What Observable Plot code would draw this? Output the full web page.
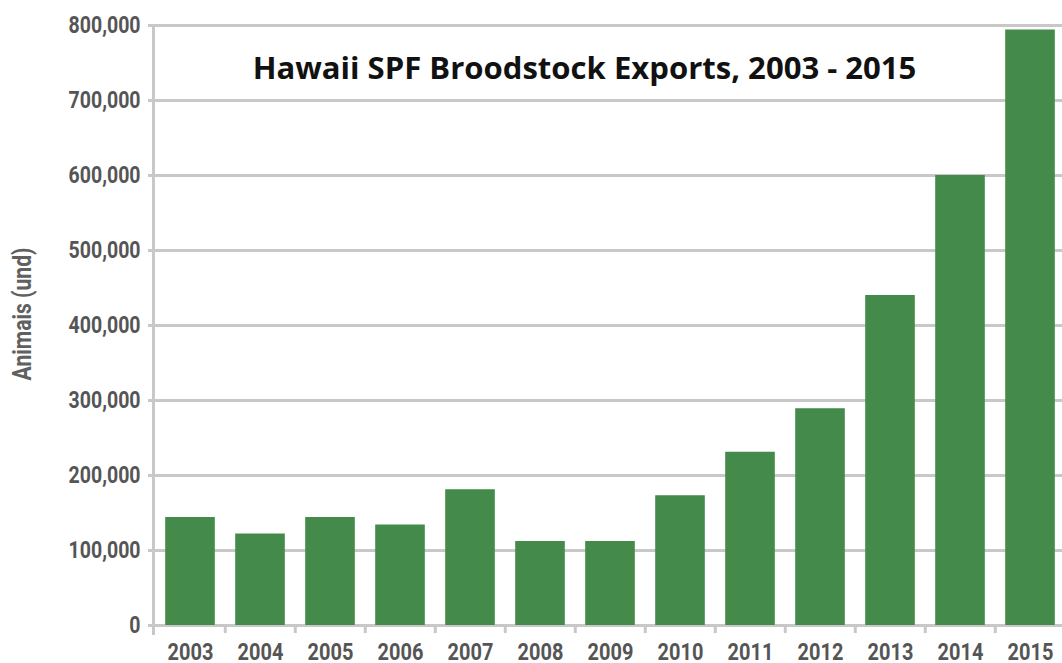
<!DOCTYPE html>
<html>
<head>
<meta charset="utf-8">
<script src="https://cdn.jsdelivr.net/npm/d3@7"></script>
<script src="https://cdn.jsdelivr.net/npm/@observablehq/plot@0.6"></script>
<style>
  html, body { margin: 0; padding: 0; background: #fff; }
  #chart { width: 1062px; height: 663px; overflow: hidden; }
</style>
</head>
<body>
<div id="chart"></div>
<script>
// ---- data ----
const years = ["2003","2004","2005","2006","2007","2008","2009","2010","2011","2012","2013","2014","2015"];
const broodstockExports = [144000,122000,144000,134000,181000,112000,112000,173000,231000,289000,440000,600000,794000];
const yTicks = [0,100000,200000,300000,400000,500000,600000,700000,800000];
const chartTitle = "Hawaii SPF Broodstock Exports, 2003 - 2015";
const yLabel = "Animais (und)";

const data = years.map((year, i) => ({year, value: broodstockExports[i]}));

// ---- style ----
const W = 1062, H = 663;
const xRange = [151.5, 1067.5];
const step = (xRange[1] - xRange[0]) / years.length;
const grey = "#c8c8c8";
const textGrey = "#555555";
const green = "#438a4b";
const tickFont = "Roboto, 'Liberation Sans', sans-serif";

const svg = Plot.plot({
  width: W,
  height: H,
  marginTop: 25,
  marginBottom: 38,
  marginLeft: 153,
  marginRight: 0,
  style: {background: "#fff", overflow: "visible"},
  x: {type: "band", domain: years, range: xRange, padding: 0, axis: null},
  y: {domain: [0, 800000], axis: null},
  marks: [
    Plot.gridY(yTicks, {stroke: grey, strokeOpacity: 1, strokeWidth: 3, insetLeft: -5}),
    Plot.frame({anchor: "left", stroke: grey, strokeWidth: 3, insetBottom: -8}),
    Plot.axisX({ticks: years.slice(1), tickSize: 8, tickFormat: () => "", dx: -step / 2,
      stroke: grey, strokeWidth: 3, strokeOpacity: 1, label: null}),
    Plot.barY(data, {x: "year", y: "value", fill: green, insetLeft: 10.2, insetRight: 10.2}),
    Plot.axisX({tickSize: 0, tickPadding: 18, fontSize: 23.5, fontWeight: "bold",
      fontFamily: tickFont, color: textGrey, label: null}),
    Plot.axisY({ticks: yTicks, tickSize: 0, tickPadding: 13, fontSize: 23.5, fontWeight: "bold",
      fontFamily: tickFont, color: textGrey, tickFormat: d3.format(","), label: null}),
    Plot.text([yLabel], {frameAnchor: "left", textAnchor: "middle", rotate: -90, dx: -131, dy: -11.5,
      fontSize: 25, fontWeight: "bold", fontFamily: tickFont, fill: "#606060"}),
    Plot.text([chartTitle], {frameAnchor: "top", textAnchor: "middle", dx: 584 - (153 + W) / 2, dy: 32,
      fontSize: 30, fontWeight: "bold", fontFamily: "'Open Sans', sans-serif", fill: "#111"})
  ]
});

document.getElementById("chart").appendChild(svg);

function appendScale(t, k) {
  const tr = t.getAttribute("transform") || "";
  t.setAttribute("transform", tr + ` scale(${k},1)`);
}
// condensed look for the axis labels (horizontal compression around each text anchor)
function squeeze(selector, k) {
  svg.querySelectorAll(selector).forEach(t => appendScale(t, k));
}
squeeze('g[aria-label="x-axis tick label"] text', 0.85);
squeeze('g[aria-label="y-axis tick label"] text', 0.83);

function fixFree() {
  svg.querySelectorAll("text").forEach(t => {
    if (t.dataset.fixed) return;
    if (t.textContent === yLabel) {
      const len = t.getComputedTextLength();
      if (len > 0) { appendScale(t, 133 / len); t.dataset.fixed = "1"; }
    } else if (t.textContent === chartTitle) {
      const len = t.getComputedTextLength();
      if (len > 0) { appendScale(t, 664 / len); t.dataset.fixed = "1"; }
    }
  });
}
if (document.fonts && document.fonts.ready) {
  document.fonts.ready.then(fixFree);
} else {
  fixFree();
}
</script>
</body>
</html>
